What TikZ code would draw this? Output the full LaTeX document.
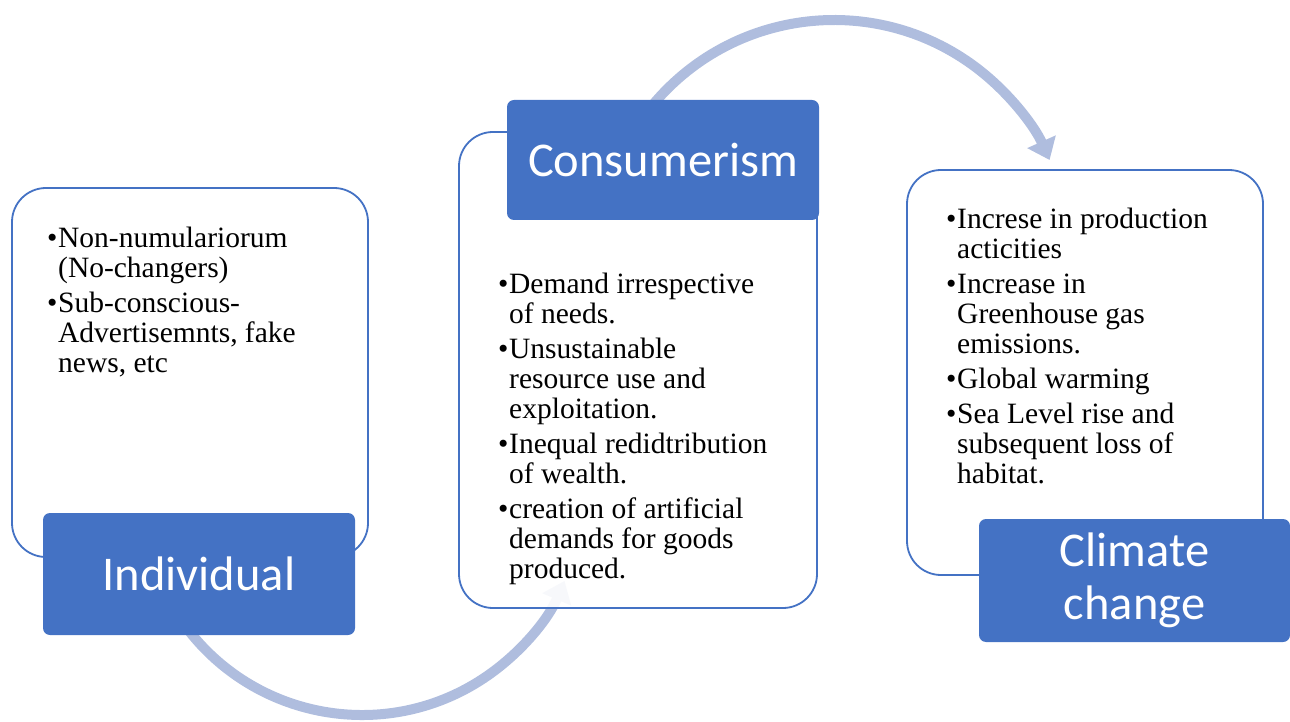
\documentclass[tikz,border=0pt]{standalone}
\usepackage{fontspec}
\setmainfont{Liberation Serif}
\newfontfamily\titlefont{Carlito}
\usepackage{tikz}
\usetikzlibrary{positioning,arrows.meta}
\definecolor{officeblue}{RGB}{68,114,196}
\definecolor{loopblue}{RGB}{175,189,222}
\tikzstyle{panel} = [rectangle, draw=officeblue, line width=1.8pt, fill=white, fill opacity=0.9, rounded corners=34pt, inner sep=0pt]
\tikzstyle{title} = [rectangle, fill=officeblue, text=white, rounded corners=7pt, inner sep=0pt, align=center, font=\titlefont\fontsize{48.5}{53}\selectfont]
\tikzstyle{points} = [inner sep=0pt, anchor=north west, align=left, font=\fontsize{29.5}{30}\selectfont]
\tikzstyle{loop} = [draw=loopblue, line width=10pt, -{Triangle[width=30pt,length=20pt]}]
\newcommand{\bul}{\makebox[11pt][l]{\textbullet}}
\newcommand{\ind}{\hspace*{11pt}}

\begin{document}
\begin{tikzpicture}[x=1pt, y=1pt]
    \useasboundingbox (0,0) rectangle (1290,721);

    % loops
    \coordinate (lowloop) at (362,226);
    \coordinate (highloop) at (834,465);
    \draw[loop] ([shift={(215:220pt)}]lowloop) arc[start angle=215, end angle=337, radius=220pt];
    \draw[loop] ([shift={(140:236pt)}]highloop) arc[start angle=140, end angle=24, radius=236pt];

    % panels
    \node[panel, minimum width=356pt, minimum height=369pt] (indivbox) at (190,348.5) {};
    \node[panel, minimum width=358pt, minimum height=476pt] (consbox) at (638,351) {};
    \node[panel, minimum width=356pt, minimum height=405pt] (climatebox) at (1085,348.5) {};

    % titles
    \node[title, minimum width=312pt, minimum height=122pt] (indiv) at (199,147) {Individual};
    \node[title, minimum width=312pt, minimum height=120pt] (cons) at (663,561) {Consumerism};
    \node[title, minimum width=311pt, minimum height=123pt] (climate) at (1134.5,140.5) {Climate\\change};

    % bullet points
    \node[points] (indivtext) at (47,494) {\bul Non-numulariorum\\
        \ind(No-changers)\\[5pt]
        \bul Sub-conscious-\\
        \ind Advertisemnts, fake\\
        \ind news, etc};
    \node[points] (constext) at (498,448) {\bul Demand irrespective\\
        \ind of needs.\\[5pt]
        \bul Unsustainable\\
        \ind resource use and\\
        \ind exploitation.\\[5pt]
        \bul Inequal redidtribution\\
        \ind of wealth.\\[5pt]
        \bul creation of artificial\\
        \ind demands for goods\\
        \ind produced.};
    \node[points] (climatetext) at (946,513) {\bul Increse in production\\
        \ind acticities\\[5pt]
        \bul Increase in\\
        \ind Greenhouse gas\\
        \ind emissions.\\[5pt]
        \bul Global warming\\[5pt]
        \bul Sea Level rise and\\
        \ind subsequent loss of\\
        \ind habitat.};
\end{tikzpicture}
\end{document}
